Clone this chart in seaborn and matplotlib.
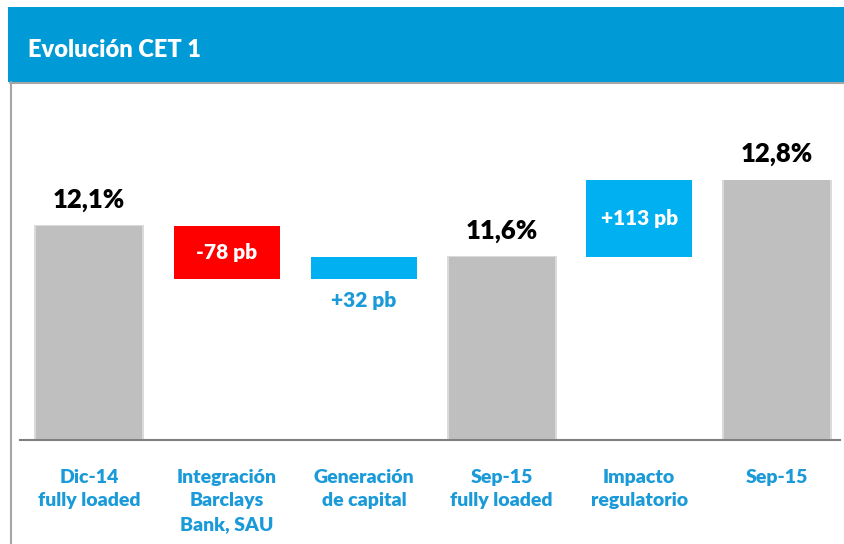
import matplotlib
matplotlib.use("Agg")
import matplotlib.pyplot as plt
import seaborn as sns
import pandas as pd
from matplotlib.patches import Rectangle
from matplotlib.lines import Line2D

# ---- data ----
categories = ["Dic-14\nfully loaded", "Integración\nBarclays\nBank, SAU", "Generación\nde capital",
              "Sep-15\nfully loaded", "Impacto\nregulatorio", "Sep-15"]
start_value = 12.1
deltas = [-0.78, 0.32, 1.13]          # in percentage points
delta_labels = ["-78 pb", "+32 pb", "+113 pb"]
total_labels = ["12,1%", "11,6%", "12,8%"]
kinds = ["total", "delta", "delta", "total", "delta", "total"]

# waterfall computation
tops, bottoms = [], []
level = start_value
di = 0
for k in kinds:
    if k == "total":
        tops.append(level); bottoms.append(None)
    else:
        d = deltas[di]; di += 1
        new = level + d
        tops.append(max(level, new)); bottoms.append(min(level, new))
        level = new

GRAY = "#BFBFBF"; RED = "#FF0000"; CYAN = "#00B0F0"
HEADER = "#009AD6"; LABEL_BLUE = "#1A9AD8"
colors = [GRAY, RED, CYAN, GRAY, CYAN, GRAY]

df = pd.DataFrame({"cat": categories, "top": tops})

sns.set_theme(style="white")
plt.rcParams["font.family"] = ["Lato", "DejaVu Sans"]
W = 800

fig = plt.figure(figsize=(8.44, 5.44), dpi=100)
fig.patch.set_facecolor("white")

# header band and panel border
fig.add_artist(Rectangle((8/844, 1-82/544), 836/844, 75/544, transform=fig.transFigure,
                         facecolor=HEADER, edgecolor="none", zorder=0))
fig.add_artist(Line2D([10/844, 1], [1-82.5/544]*2, transform=fig.transFigure, color="#A6A6A6", lw=1.5))
fig.add_artist(Line2D([10.5/844]*2, [0, 1-82/544], transform=fig.transFigure, color="#A6A6A6", lw=1.5))
fig.text(28/844, 1-50/544, "Evolución CET 1", color="white", fontsize=17, fontweight=W,
         va="center", ha="left")

ax = fig.add_axes([20/844, 104/544, 820/844, 340/544])
sns.barplot(data=df, x="cat", y="top", hue="cat", palette=colors, legend=False,
            width=0.77, saturation=1, ax=ax, zorder=2)

for i, p in enumerate(ax.patches):
    if bottoms[i] is not None:
        p.set_y(bottoms[i]); p.set_height(tops[i] - bottoms[i])
    p.set_edgecolor("none")
    if kinds[i] == "total":
        # soft shadow
        x0 = p.get_x(); w = p.get_width()
        ax.add_patch(Rectangle((x0 - 0.015, 8.0), w + 0.03, tops[i] - 8.0 + 0.01,
                               facecolor="#DADADA", edgecolor="none", zorder=1))

ax.set_xlim(-0.502, 5.46)
ax.set_ylim(8.95, 13.95)

# labels
ti = 0; di = 0
for i, k in enumerate(kinds):
    if k == "total":
        ax.annotate(total_labels[ti], (i, tops[i]), xytext=(0, 13), textcoords="offset points",
                    ha="center", va="baseline", fontsize=18.5, fontweight=W, color="black")
        ti += 1
    else:
        lab = delta_labels[di]; di += 1
        if tops[i] - bottoms[i] > 0.5:
            ax.text(i, (tops[i] + bottoms[i]) / 2, lab, ha="center", va="center",
                    fontsize=15, fontweight=W, color="white", zorder=3)
        else:
            ax.annotate(lab, (i, bottoms[i]), xytext=(0, -9), textcoords="offset points",
                        ha="center", va="top", fontsize=15, fontweight=W, color=LABEL_BLUE)

ax.set_xlabel(""); ax.set_ylabel("")
ax.set_yticks([])
ax.tick_params(axis="x", length=0, pad=21)
for t in ax.get_xticklabels():
    t.set_color(LABEL_BLUE); t.set_fontweight(W); t.set_fontsize(14)
    t.set_linespacing(1.45); t.set_va("top")
for s in ["top", "right", "left"]:
    ax.spines[s].set_visible(False)
ax.spines["bottom"].set_color("#808080")
ax.spines["bottom"].set_linewidth(1.5)
ax.spines["bottom"].set_zorder(4)
ax.set_facecolor("none")

fig.savefig("out.png", dpi=100)
